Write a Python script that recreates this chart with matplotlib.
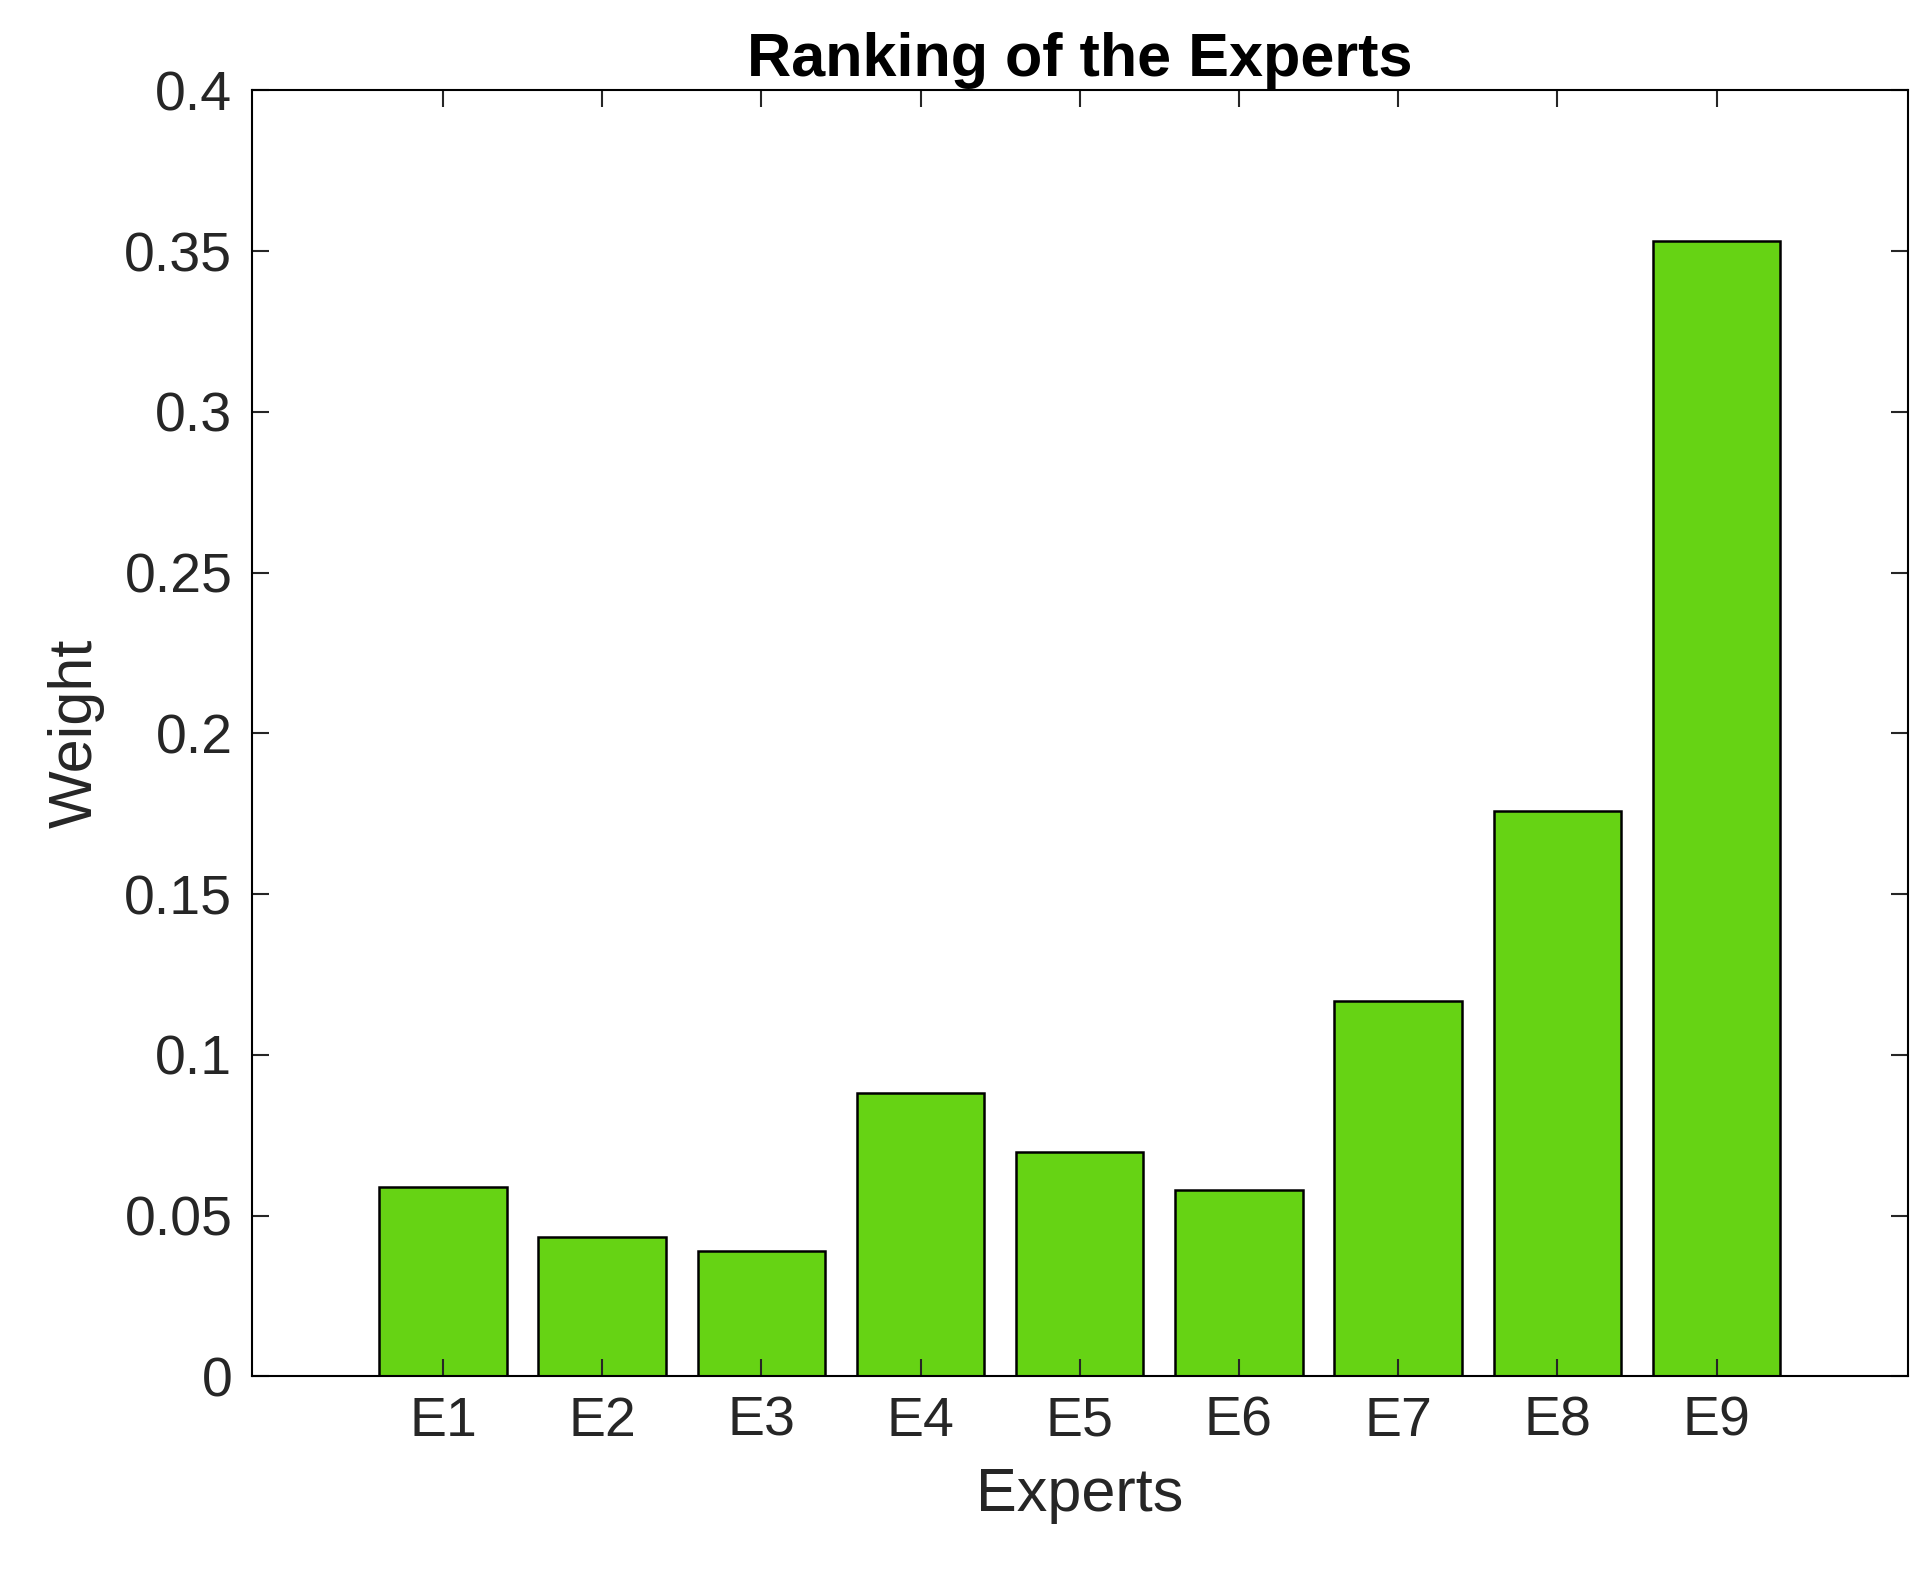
import numpy as np
import matplotlib
matplotlib.use("Agg")
from matplotlib import pyplot as plt

plt.rcParams['font.family'] = ['Liberation Sans', 'DejaVu Sans']

experts = ['E1', 'E2', 'E3', 'E4', 'E5', 'E6', 'E7', 'E8', 'E9']
weights = [0.0588, 0.0435, 0.0390, 0.0882, 0.0698, 0.0580, 0.1168, 0.1760, 0.3530]

fig = plt.figure(figsize=(19.23, 15.84), dpi=100)
ax = fig.add_axes([0.131, 0.131, 0.861, 0.812])
pos = np.arange(1, len(experts) + 1)
ax.bar(pos, weights, width=0.8, color='#66d314', edgecolor='black', linewidth=1.8)
ax.set_xlim(-0.2, 10.2)
ax.set_ylim(0, 0.4)
ax.set_xticks(pos)
ax.set_xticklabels(experts)
ax.set_yticks(np.arange(0, 0.401, 0.05))
ax.set_yticklabels(['0', '0.05', '0.1', '0.15', '0.2', '0.25', '0.3', '0.35', '0.4'])
ax.tick_params(direction='in', top=True, right=True, length=12, width=1.5,
               labelsize=40, colors='#262626', pad=14)
for s in ax.spines.values():
    s.set_linewidth(1.5)
ax.set_xlabel('Experts', fontsize=44, color='#262626', labelpad=14)
ax.set_ylabel('Weight', fontsize=44, color='#262626', labelpad=14)
ax.set_title('Ranking of the Experts', fontsize=44, fontweight='bold', pad=10)
fig.savefig('out.png')
